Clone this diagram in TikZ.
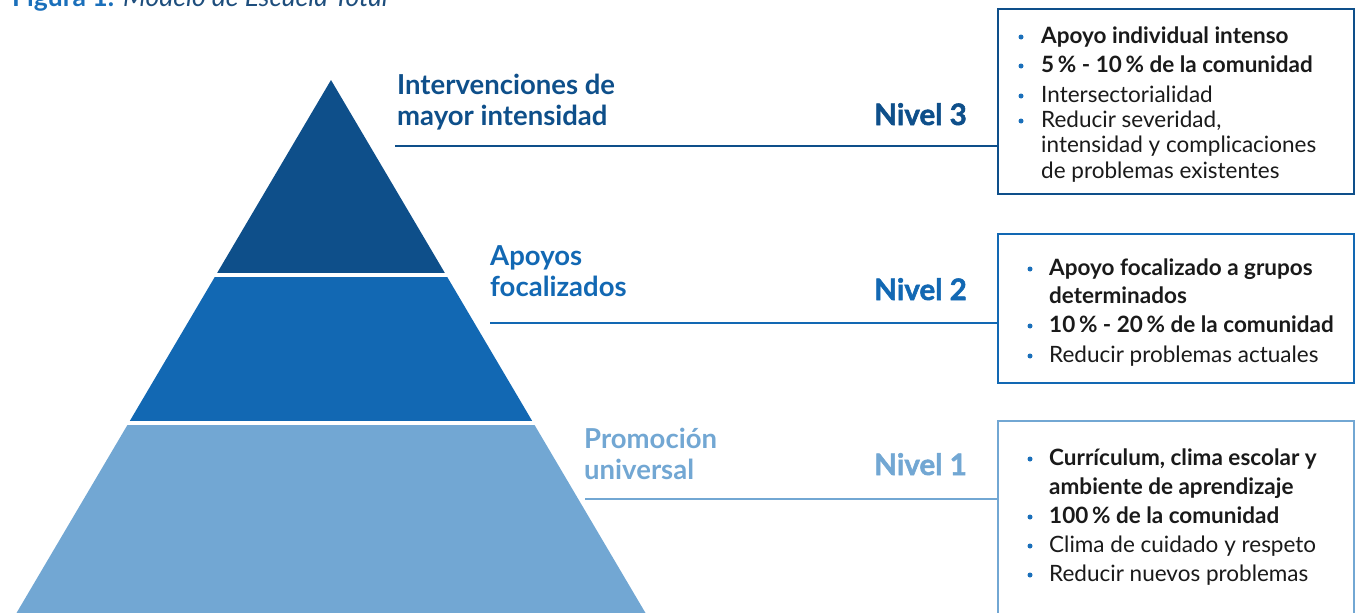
\documentclass[tikz,border=0pt]{standalone}
\usepackage{fontspec}
\setmainfont{Lato}
\newfontfamily\heavyfont[FakeBold=1.8]{Lato Bold}
\definecolor{cdark}{HTML}{0E4F8A}
\definecolor{cmid}{HTML}{1268B3}
\definecolor{clight}{HTML}{72A7D3}
\definecolor{ctitle}{HTML}{1A6FBA}
\definecolor{ctitleb}{HTML}{1E4E7D}
\definecolor{ctext}{HTML}{1A1A1A}
\definecolor{cbullet}{HTML}{1A6FBA}
\tikzset{
  lbl/.style={inner sep=0pt, anchor=north west, align=left, font=\fontsize{27.5}{31}\selectfont\bfseries},
  nivel/.style={inner sep=0pt, anchor=base east, font=\fontsize{29.5}{32}\heavyfont},
  boxframe/.style={draw, line width=1.6pt, fill=white, inner sep=0pt, anchor=north west},
  itemtxt/.style={inner sep=0pt, anchor=base west, text=ctext, font=\fontsize{22.5}{26}\selectfont},
  bul/.style={circle, fill=cbullet, inner sep=0pt, minimum size=5pt},
  conn/.style={line width=1.6pt}
}
\begin{document}
\begin{tikzpicture}[x=1pt,y=-1pt]
\useasboundingbox (0,0) rectangle (1355,613);
\clip (0,0) rectangle (1355,613);

% title (cut at top, as in the reference)
\node[inner sep=0pt, anchor=base west, font=\fontsize{26.5}{30}\selectfont] (title) at (12,6)
  {\textcolor{ctitle}{\bfseries Figura 1.} \textcolor{ctitleb}{\itshape Modelo de Escuela Total}};

% pyramid
\begin{scope}
\clip (331,80) -- (16.5,613) -- (645.5,613) -- cycle;
\fill[cdark] (0,0) rectangle (1355,273);
\fill[cmid] (0,277) rectangle (1355,421);
\fill[clight] (0,425) rectangle (1355,640);
\end{scope}

% labels
\node[lbl, text=cdark] (l3) at (397,74) {Intervenciones de\\mayor intensidad};
\node[lbl, text=cmid] (l2) at (490,245) {Apoyos\\focalizados};
\node[lbl, text=clight] (l1) at (584,428) {Promoción\\universal};

\node[nivel, text=cdark] (n3) at (967,125) {Nivel 3};
\node[nivel, text=cmid] (n2) at (967,300) {Nivel 2};
\node[nivel, text=clight] (n1) at (967,475) {Nivel 1};

% boxes
\node[boxframe, draw=cdark, minimum width=356pt, minimum height=185pt] (b3) at (997,8) {};
\node[boxframe, draw=cmid, minimum width=356pt, minimum height=149pt] (b2) at (997,233) {};
\node[boxframe, draw=clight, minimum width=356pt, minimum height=230pt] (b1) at (997,420) {};

% connectors
\coordinate (c3) at (395,146);
\coordinate (c2) at (490,323);
\coordinate (c1) at (585,499);
\draw[conn, cdark] (c3) -- (c3 -| b3.west);
\draw[conn, cmid] (c2) -- (c2 -| b2.west);
\draw[conn, clight] (c1) -- (c1 -| b1.west);

% box 3 text
\node[itemtxt] (t3a) at (1041,43) {\bfseries Apoyo individual intenso};
\node[itemtxt] (t3b) at (1041,72) {\bfseries 5\,\% - 10\,\% de la comunidad};
\node[itemtxt] (t3c) at (1041,102) {Intersectorialidad};
\node[itemtxt] (t3d) at (1041,127) {Reducir severidad,};
\node[itemtxt] (t3e) at (1041,152) {intensidad y complicaciones};
\node[itemtxt] (t3f) at (1041,178) {de problemas existentes};
\foreach \n/\y in {a/37,b/66,c/96,d/121} \node[bul] (p3\n) at (1021,\y) {};

% box 2 text
\node[itemtxt] (t2a) at (1049,275) {\bfseries Apoyo focalizado a grupos};
\node[itemtxt] (t2b) at (1049,303) {\bfseries determinados};
\node[itemtxt] (t2c) at (1049,332) {\bfseries 10\,\% - 20\,\% de la comunidad};
\node[itemtxt] (t2d) at (1049,362) {Reducir problemas actuales};
\foreach \n/\y in {a/269,c/326,d/356} \node[bul] (p2\n) at (1030,\y) {};

% box 1 text
\node[itemtxt] (t1a) at (1049,465) {\bfseries Currículum, clima escolar y};
\node[itemtxt] (t1b) at (1049,494) {\bfseries ambiente de aprendizaje};
\node[itemtxt] (t1c) at (1049,523) {\bfseries 100\,\% de la comunidad};
\node[itemtxt] (t1d) at (1049,552) {Clima de cuidado y respeto};
\node[itemtxt] (t1e) at (1049,581) {Reducir nuevos problemas};
\foreach \n/\y in {a/459,c/517,d/546,e/575} \node[bul] (p1\n) at (1030,\y) {};
\end{tikzpicture}
\end{document}
